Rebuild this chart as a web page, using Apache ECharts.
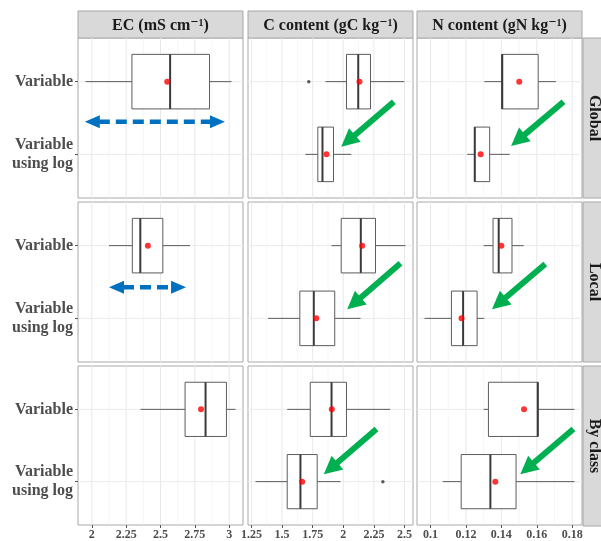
<!DOCTYPE html>
<html>
<head>
<meta charset="utf-8">
<script src="https://cdn.jsdelivr.net/npm/echarts@6/dist/echarts.min.js"></script>
<style>
  html, body { margin: 0; padding: 0; background: #fff; }
  #chart { width: 601px; height: 541px; }
</style>
</head>
<body>
<div id="chart"></div>
<script>
// facets
const columnTitles = ['EC (mS cm\u207B\u00B9)', 'C content (gC kg\u207B\u00B9)', 'N content (gN kg\u207B\u00B9)'];
const rowTitles = ['Global', 'Local', 'By class'];
const categories = ['Variable', 'Variable\nusing log'];

// box summaries per row (Global, Local, By class): [Variable, Variable using log]
// each box: [low whisker, Q1, median, Q3, high whisker]
const boxesEC = [
  [[1.954, 2.292, 2.570, 2.857, 3.017], null],
  [[2.125, 2.295, 2.353, 2.517, 2.715], null],
  [[2.355, 2.679, 2.828, 2.980, 3.046], null]
];
const boxesC = [
  [[1.855, 2.026, 2.122, 2.222, 2.498], [1.691, 1.792, 1.830, 1.920, 2.065]],
  [[1.904, 1.983, 2.143, 2.263, 2.508], [1.386, 1.645, 1.759, 1.930, 2.141]],
  [[1.542, 1.730, 1.904, 2.026, 2.383], [1.283, 1.542, 1.650, 1.787, 1.977]]
];
const boxesN = [
  [[0.1304, 0.1402, 0.1405, 0.1608, 0.1708], [0.1207, 0.1248, 0.1250, 0.1334, 0.1447]],
  [[0.1300, 0.1353, 0.1385, 0.1460, 0.1526], [0.0966, 0.1118, 0.1184, 0.1263, 0.1304]],
  [[0.1300, 0.1327, 0.1605, 0.1608, 0.1813], [0.1069, 0.1173, 0.1338, 0.1483, 0.1813]]
];

// means (red dots)
const meansEC = [[2.549, null], [2.408, null], [2.795, null]];
const meansC = [[2.132, 1.863], [2.154, 1.779], [1.906, 1.664]];
const meansN = [[0.1501, 0.1283], [0.1400, 0.1175], [0.1528, 0.1366]];

// outliers: [row, category (1 or 2), value]
const outliersEC = [];
const outliersC = [[0, 1, 1.718], [2, 2, 2.323]];
const outliersN = [];

// tick labels
const ticksEC = [2, 2.25, 2.5, 2.75, 3];
const ticksC = [1.25, 1.5, 1.75, 2, 2.25, 2.5];
const ticksN = [0.1, 0.12, 0.14, 0.16, 0.18];

// annotation arrows in data units: [row, x1, y1, x2, y2]
const blueArrowsEC = [[0, 1.949, 1.55, 2.969, 1.55], [1, 2.125, 1.573, 2.686, 1.573]];
const greenArrowsC = [[0, 2.413, 1.276, 1.983, 1.895], [1, 2.467, 1.243, 2.032, 1.876], [2, 2.271, 1.271, 1.841, 1.899]];
const greenArrowsN = [[0, 0.1751, 1.276, 0.1455, 1.886], [1, 0.1648, 1.253, 0.1347, 1.876], [2, 0.1807, 1.271, 0.1507, 1.899]];

const columns = [
  { boxes: boxesEC, means: meansEC, outliers: outliersEC, ticks: ticksEC, blue: blueArrowsEC, green: [] },
  { boxes: boxesC, means: meansC, outliers: outliersC, ticks: ticksC, blue: [], green: greenArrowsC },
  { boxes: boxesN, means: meansN, outliers: outliersN, ticks: ticksN, blue: [], green: greenArrowsN }
];

const colLeft = [78, 248, 417], colWidth = 165;
const rowTop = [38, 202, 366], rowHeight = 160;
const serif = '"Liberation Serif", "DejaVu Serif", serif';

function expandedRange(col) {
  let lo = Infinity, hi = -Infinity;
  col.boxes.forEach(r => r.forEach(b => { if (b) { lo = Math.min(lo, b[0]); hi = Math.max(hi, b[4]); } }));
  col.outliers.forEach(o => { lo = Math.min(lo, o[2]); hi = Math.max(hi, o[2]); });
  const pad = (hi - lo) * 0.05;
  return [lo - pad, hi + pad];
}

function renderGridLines(ticks) {
  const minor = [];
  for (let i = 0; i < ticks.length - 1; i++) minor.push((ticks[i] + ticks[i + 1]) / 2);
  minor.unshift(ticks[0] - (ticks[1] - ticks[0]) / 2);
  minor.push(ticks[ticks.length - 1] + (ticks[1] - ticks[0]) / 2);
  return function (params, api) {
    const cs = params.coordSys;
    const kids = [];
    const vline = (v, w, c) => {
      const x = api.coord([v, 1])[0];
      if (x < cs.x || x > cs.x + cs.width) return;
      kids.push({ type: 'line', shape: { x1: x, y1: cs.y, x2: x, y2: cs.y + cs.height }, style: { stroke: c, lineWidth: w } });
    };
    minor.forEach(v => vline(v, 0.6, '#f0f0f0'));
    ticks.forEach(v => vline(v, 1, '#e8e8e8'));
    [1, 2].forEach(k => {
      const y = api.coord([ticks[0], k])[1];
      kids.push({ type: 'line', shape: { x1: cs.x, y1: y, x2: cs.x + cs.width, y2: y }, style: { stroke: '#ebebeb', lineWidth: 1 } });
    });
    return { type: 'group', children: kids };
  };
}

function renderBox(params, api) {
  const y = api.value(0);
  const lo = api.coord([api.value(1), y]);
  const q1 = api.coord([api.value(2), y]);
  const md = api.coord([api.value(3), y]);
  const q3 = api.coord([api.value(4), y]);
  const hi = api.coord([api.value(5), y]);
  const h = api.size([0, 0.75])[1];
  const top = lo[1] - h / 2;
  const stroke = '#5c5c5c';
  return {
    type: 'group',
    children: [
      { type: 'line', shape: { x1: lo[0], y1: lo[1], x2: q1[0], y2: q1[1] }, style: { stroke: stroke, lineWidth: 1 } },
      { type: 'line', shape: { x1: q3[0], y1: q3[1], x2: hi[0], y2: hi[1] }, style: { stroke: stroke, lineWidth: 1 } },
      { type: 'rect', shape: { x: q1[0], y: top, width: q3[0] - q1[0], height: h }, style: { fill: '#fff', stroke: stroke, lineWidth: 1 } },
      { type: 'line', shape: { x1: md[0], y1: top, x2: md[0], y2: top + h }, style: { stroke: '#3a3a3a', lineWidth: 2 } }
    ]
  };
}

function makeArrowRenderer(opts) {
  return function (params, api) {
    const p1 = api.coord([api.value(0), api.value(1)]);
    const p2 = api.coord([api.value(2), api.value(3)]);
    const dx = p2[0] - p1[0], dy = p2[1] - p1[1];
    const len = Math.sqrt(dx * dx + dy * dy);
    const ux = dx / len, uy = dy / len, nx = -uy, ny = ux;
    const head = (tip, sx, sy) => {
      const bx = tip[0] - sx * opts.headLen, by = tip[1] - sy * opts.headLen;
      return {
        type: 'polygon',
        shape: { points: [tip, [bx + nx * opts.headW, by + ny * opts.headW], [bx - nx * opts.headW, by - ny * opts.headW]] },
        style: { fill: opts.color }
      };
    };
    const start = opts.both ? [p1[0] + ux * (opts.headLen - 1), p1[1] + uy * (opts.headLen - 1)] : p1;
    const end = [p2[0] - ux * (opts.headLen - 1), p2[1] - uy * (opts.headLen - 1)];
    const kids = [
      { type: 'line', shape: { x1: start[0], y1: start[1], x2: end[0], y2: end[1] },
        style: { stroke: opts.color, lineWidth: opts.width, lineDash: opts.dash || null } },
      head(p2, ux, uy)
    ];
    if (opts.both) kids.push(head(p1, -ux, -uy));
    return { type: 'group', children: kids };
  };
}

const grids = [], xAxes = [], yAxes = [], series = [];

rowTitles.forEach((rowName, r) => {
  columns.forEach((col, c) => {
    const idx = r * 3 + c;
    const range = expandedRange(col);
    grids.push({
      left: colLeft[c], top: rowTop[r], width: colWidth, height: rowHeight,
      show: true, borderColor: '#a8a8a8', borderWidth: 1, backgroundColor: '#fff'
    });
    xAxes.push({
      gridIndex: idx, type: 'value', min: range[0], max: range[1],
      axisLine: { show: false }, splitLine: { show: false },
      axisTick: { show: r === 2, length: 3, customValues: col.ticks, lineStyle: { color: '#555' } },
      axisLabel: {
        show: r === 2, customValues: col.ticks, margin: 4,
        fontFamily: serif, fontWeight: 'bold', fontSize: 12, color: '#4d4d4d'
      }
    });
    yAxes.push({
      gridIndex: idx, type: 'value', min: 0.4, max: 2.6, inverse: true,
      axisLine: { show: false }, splitLine: { show: false },
      axisTick: { show: c === 0, length: 3, customValues: [1, 2], lineStyle: { color: '#555' } },
      axisLabel: {
        show: c === 0, customValues: [1, 2], margin: 5, lineHeight: 19,
        formatter: v => categories[Math.round(v) - 1],
        fontFamily: serif, fontWeight: 'bold', fontSize: 16, color: '#4d4d4d', align: 'right'
      }
    });

    series.push({
      type: 'custom', xAxisIndex: idx, yAxisIndex: idx, silent: true, z: 1, clip: false,
      renderItem: renderGridLines(col.ticks), data: [[col.ticks[0], 1]], encode: { x: 0, y: 1 }
    });

    const boxData = [];
    col.boxes[r].forEach((b, k) => { if (b) boxData.push([k + 1].concat(b)); });
    series.push({
      type: 'custom', xAxisIndex: idx, yAxisIndex: idx, silent: true, z: 2,
      renderItem: renderBox, data: boxData, encode: { x: [1, 2, 3, 4, 5], y: 0 }
    });

    series.push({
      type: 'scatter', xAxisIndex: idx, yAxisIndex: idx, silent: true, z: 3,
      symbolSize: 3.5, itemStyle: { color: '#333' },
      data: col.outliers.filter(o => o[0] === r).map(o => [o[2], o[1]])
    });

    const meanData = [];
    col.means[r].forEach((m, k) => { if (m !== null) meanData.push([m, k + 1]); });
    series.push({
      type: 'scatter', xAxisIndex: idx, yAxisIndex: idx, silent: true, z: 4,
      symbolSize: 6, itemStyle: { color: '#ff0000' }, data: meanData
    });

    const blue = col.blue.filter(a => a[0] === r).map(a => a.slice(1));
    if (blue.length) {
      series.push({
        type: 'custom', xAxisIndex: idx, yAxisIndex: idx, silent: true, z: 5, clip: false,
        renderItem: makeArrowRenderer({ color: '#0070c0', width: 4.5, dash: [11, 6], headLen: 15, headW: 6.5, both: true }),
        data: blue, encode: { x: [0, 2], y: [1, 3] }
      });
    }
    const green = col.green.filter(a => a[0] === r).map(a => a.slice(1));
    if (green.length) {
      series.push({
        type: 'custom', xAxisIndex: idx, yAxisIndex: idx, silent: true, z: 5, clip: false,
        renderItem: makeArrowRenderer({ color: '#00b050', width: 6, headLen: 18, headW: 9, both: false }),
        data: green, encode: { x: [0, 2], y: [1, 3] }
      });
    }
  });
});

// strips
const graphics = [];
columnTitles.forEach((t, c) => {
  graphics.push({
    type: 'rect', shape: { x: colLeft[c], y: 11, width: colWidth, height: rowTop[0] - 11 },
    style: { fill: '#d9d9d9', stroke: '#a8a8a8', lineWidth: 1 }, silent: true
  });
  graphics.push({
    type: 'text', x: colLeft[c] + colWidth / 2, y: (11 + rowTop[0]) / 2 + 1,
    style: { text: t, textAlign: 'center', textVerticalAlign: 'middle', fill: '#1a1a1a', font: 'bold 16px ' + serif },
    silent: true
  });
});
rowTitles.forEach((t, r) => {
  graphics.push({
    type: 'rect', shape: { x: 583, y: rowTop[r], width: 24, height: rowHeight },
    style: { fill: '#d9d9d9', stroke: '#a8a8a8', lineWidth: 1 }, silent: true
  });
  graphics.push({
    type: 'text', x: 594, y: rowTop[r] + rowHeight / 2, rotation: -Math.PI / 2,
    style: { text: t, textAlign: 'center', textVerticalAlign: 'middle', fill: '#1a1a1a', font: 'bold 16px ' + serif },
    silent: true
  });
});

const chart = echarts.init(document.getElementById('chart'));
chart.setOption({
  animation: false,
  backgroundColor: '#fff',
  grid: grids,
  xAxis: xAxes,
  yAxis: yAxes,
  series: series,
  graphic: graphics
});
</script>
</body>
</html>
